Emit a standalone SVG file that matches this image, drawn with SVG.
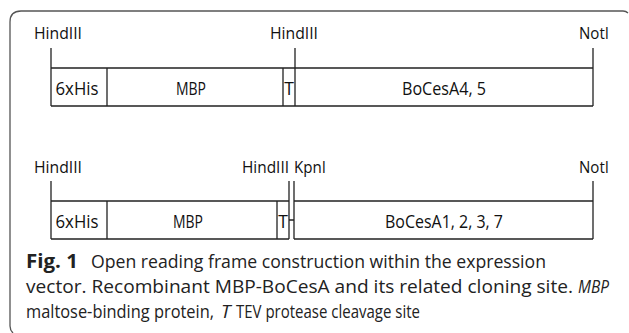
<svg xmlns="http://www.w3.org/2000/svg" width="629" height="333" viewBox="0 0 629 333">
<style>
.frame{fill:none;stroke:#555;stroke-width:1.3}
.ln{fill:none;stroke:#222;stroke-width:1.3}
.lbl{font-family:"Open Sans","Liberation Sans",sans-serif;font-size:15.5px;fill:#111}
.box{font-family:"Open Sans","Liberation Sans",sans-serif;font-size:17.5px;fill:#111;text-anchor:middle}
.cap{font-family:"Open Sans","Liberation Sans",sans-serif;font-size:19px;fill:#222}
</style>
<rect width="629" height="333" fill="#fff"/>
<path class="frame" d="M13,333 Q10,330 10,326 L10,22 Q10,11 21,11 L623,11 Q626,11 628,13"/>
<g id="row1">
  <text class="lbl" x="34" y="39" textLength="48" lengthAdjust="spacingAndGlyphs">HindIII</text>
  <text class="lbl" x="270" y="39" textLength="48" lengthAdjust="spacingAndGlyphs">HindIII</text>
  <text class="lbl" x="579" y="39" textLength="30" lengthAdjust="spacingAndGlyphs">NotI</text>
  <g id="r1-boxes">
    <path class="ln" d="M51,48 V106 M51,68 H593 M51,106 H593 M107,68 V106 M283,68 V106 M295,48 V106 M593,48 V106"/>
    <text class="box" x="77" y="94.5" textLength="43" lengthAdjust="spacingAndGlyphs">6xHis</text>
    <text class="box" x="191" y="94.5" textLength="30" lengthAdjust="spacingAndGlyphs">MBP</text>
    <text class="box" x="289" y="94.5">T</text>
    <text class="box" x="444" y="94.5" textLength="84" lengthAdjust="spacingAndGlyphs">BoCesA4, 5</text>
  </g>
</g>
<g id="row2">
  <text class="lbl" x="34" y="173" textLength="48" lengthAdjust="spacingAndGlyphs">HindIII</text>
  <text class="lbl" x="242" y="173" textLength="47" lengthAdjust="spacingAndGlyphs">HindIII</text>
  <text class="lbl" x="294" y="173" textLength="32" lengthAdjust="spacingAndGlyphs">KpnI</text>
  <text class="lbl" x="579" y="173" textLength="30" lengthAdjust="spacingAndGlyphs">NotI</text>
  <g id="r2-boxes">
    <path class="ln" d="M51,181 V239 M51,201 H289 M51,239 H289 M107,201 V239 M277,201 V239 M289,181 V239 M294,181 V239 M289,220 H294 M294,201 H593 M294,239 H593 M593,181 V239"/>
    <text class="box" x="77" y="227.5" textLength="43" lengthAdjust="spacingAndGlyphs">6xHis</text>
    <text class="box" x="188" y="227.5" textLength="30" lengthAdjust="spacingAndGlyphs">MBP</text>
    <text class="box" x="283" y="227.5">T</text>
    <text class="box" x="444" y="227.5" textLength="118" lengthAdjust="spacingAndGlyphs">BoCesA1, 2, 3, 7</text>
  </g>
</g>
<g id="caption">
  <text class="cap" x="26" y="268" font-weight="bold" textLength="52" lengthAdjust="spacingAndGlyphs">Fig. 1</text>
  <text class="cap" x="91" y="268" textLength="455" lengthAdjust="spacingAndGlyphs">Open reading frame construction within the expression</text>
  <text class="cap" x="26" y="293" textLength="547" lengthAdjust="spacingAndGlyphs">vector. Recombinant MBP-BoCesA and its related cloning site.</text>
  <text class="cap" x="578" y="293" font-style="italic" textLength="31" lengthAdjust="spacingAndGlyphs">MBP</text>
  <text class="cap" x="214" y="318" text-anchor="end" textLength="188" lengthAdjust="spacingAndGlyphs">maltose-binding protein,</text>
  <text class="cap" x="221" y="318" font-style="italic">T</text>
  <text class="cap" x="236" y="318" textLength="184" lengthAdjust="spacingAndGlyphs">TEV protease cleavage site</text>
</g>
</svg>
